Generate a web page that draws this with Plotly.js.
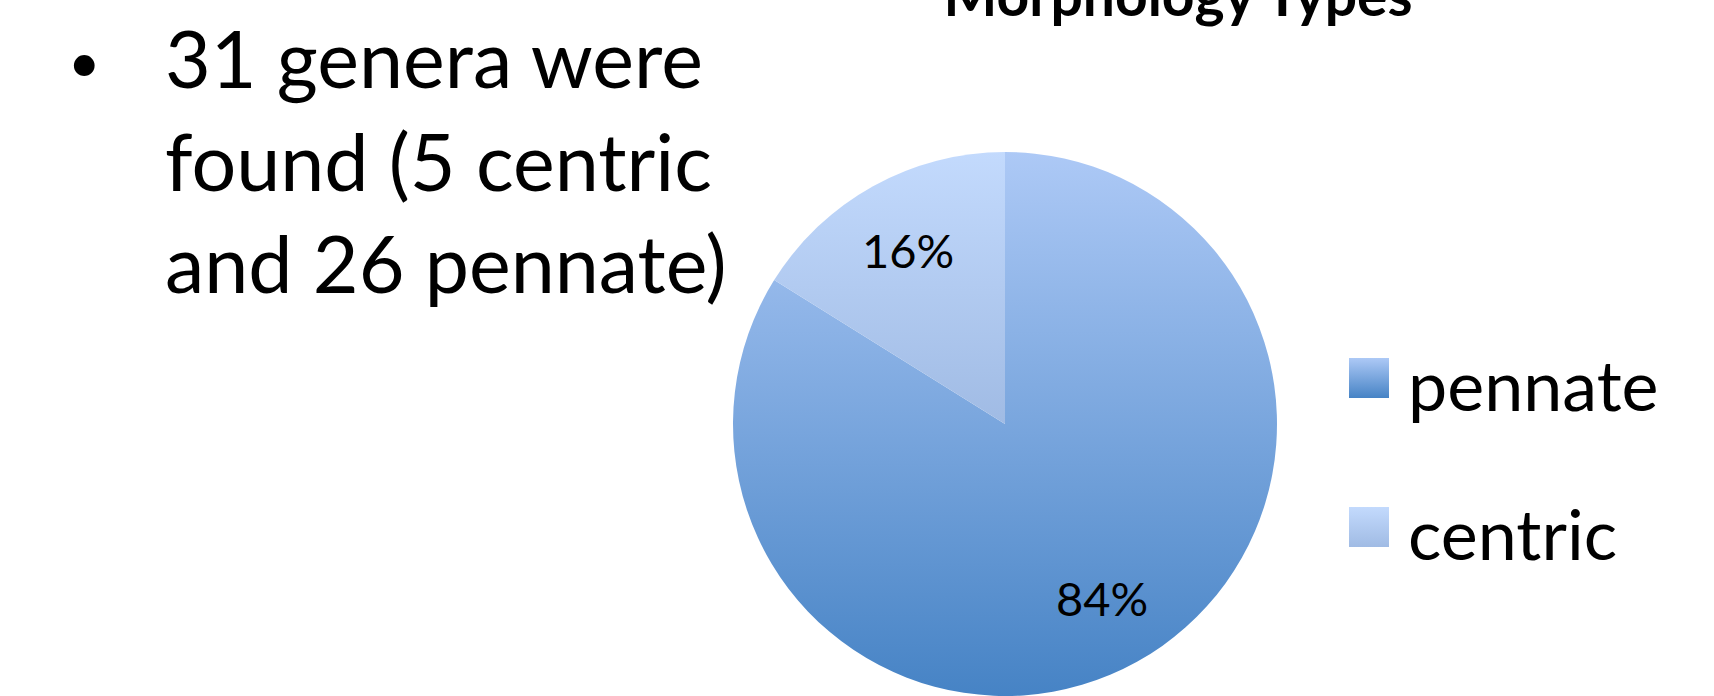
<!DOCTYPE html>
<html>
<head>
<meta charset="utf-8">
<script src="https://cdn.plot.ly/plotly-3.0.1.min.js"></script>
<style>
html,body{margin:0;padding:0;background:#fff;}
#chart{width:1714px;height:696px;}
</style>
</head>
<body>
<div id="chart"></div>
<script>
// ---- data ----
const categories = ["pennate", "centric"];
const generaCounts = [26, 5];
const sliceColors = ["#7ca6dc", "#b3cbf0"];
const gradTop = ["#adc9f6", "#c3dafd"];
const gradBottom = ["#4683c5", "#a0bbe4"];
const chartTitle = "Morphology Types";
const bulletLines = ["31 genera were", "found (5 centric", "and 26 pennate)"];

const FONT = "Lato, 'Open Sans', sans-serif";
const W = 1714, H = 696;
const pieDomain = {x: [733/W, 1277/W], y: [0, 544/H]};

const trace = {
  type: "pie",
  labels: categories,
  values: generaCounts,
  sort: false,
  direction: "clockwise",
  rotation: 0,
  marker: {colors: sliceColors, line: {width: 0}},
  textinfo: "none",
  hoverinfo: "label+percent",
  showlegend: false,
  domain: pieDomain
};

const annotations = [];
const shapes = [];

// percent labels placed from the data (mid-angle of each slice)
const total = generaCounts.reduce((a, b) => a + b, 0);
const cxPx = (pieDomain.x[0] + pieDomain.x[1]) / 2 * W;
const cyPx = (1 - (pieDomain.y[0] + pieDomain.y[1]) / 2) * H;
const rPx = Math.min((pieDomain.x[1] - pieDomain.x[0]) * W, (pieDomain.y[1] - pieDomain.y[0]) * H) / 2;
let cum = 0;
generaCounts.forEach((v, i) => {
  const theta = 2 * Math.PI * (cum + v / 2) / total;
  cum += v;
  const px = cxPx + 0.735 * rPx * Math.sin(theta);
  const py = cyPx - 0.73 * rPx * Math.cos(theta);
  annotations.push({xref: "paper", yref: "paper", x: px / W, y: 1 - py / H,
    xanchor: "center", yanchor: "middle", showarrow: false,
    text: Math.round(v / total * 100) + "%",
    font: {family: FONT, size: 47, color: "#000"}});
});

// legend built from categories
const legStartTop = 358, legStep = 149, sq = 40;
categories.forEach((c, i) => {
  const top = legStartTop + i * legStep;
  shapes.push({type: "rect", xref: "paper", yref: "paper",
    x0: 1349 / W, x1: (1349 + sq) / W,
    y0: 1 - (top + sq) / H, y1: 1 - top / H,
    fillcolor: sliceColors[i], line: {width: 0}});
  annotations.push({xref: "paper", yref: "paper", x: 1406 / W, y: 1 - (top + 26) / H,
    xanchor: "left", yanchor: "middle", showarrow: false, text: c,
    font: {family: FONT, size: 70, color: "#000"}});
});

// bullet text
annotations.push({xref: "paper", yref: "paper", x: 84 / W, y: 1 - 60 / H,
  xanchor: "center", yanchor: "middle", showarrow: false, text: "•",
  font: {family: FONT, size: 56, color: "#000"}});
annotations.push({xref: "paper", yref: "paper", x: 163 / W, y: 1 - 8 / H,
  xanchor: "left", yanchor: "top", showarrow: false, align: "left",
  text: bulletLines.join("<br>"),
  font: {family: FONT, size: 79, color: "#000"}});

const layout = {
  width: W, height: H,
  margin: {l: 0, r: 0, t: 0, b: 0},
  paper_bgcolor: "#fff",
  title: {text: "<b>" + chartTitle + "</b>", x: 1178 / W, xanchor: "center",
    xref: "paper", yref: "container", y: 1 - 16 / H, yanchor: "bottom",
    font: {family: FONT, size: 57, color: "#000"}},
  annotations: annotations,
  shapes: shapes,
  showlegend: false
};

Plotly.newPlot("chart", [trace], layout, {displayModeBar: false, staticPlot: true}).then(gd => {
  const svg = gd.querySelector("svg.main-svg");
  const NS = "http://www.w3.org/2000/svg";
  let defs = svg.querySelector("defs");
  if (!defs) { defs = document.createElementNS(NS, "defs"); svg.insertBefore(defs, svg.firstChild); }
  categories.forEach((c, i) => {
    const g = document.createElementNS(NS, "linearGradient");
    g.setAttribute("id", "grad" + i);
    g.setAttribute("x1", "0"); g.setAttribute("y1", "0");
    g.setAttribute("x2", "0"); g.setAttribute("y2", "1");
    const s1 = document.createElementNS(NS, "stop");
    s1.setAttribute("offset", "0"); s1.setAttribute("stop-color", gradTop[i]);
    const s2 = document.createElementNS(NS, "stop");
    s2.setAttribute("offset", "1"); s2.setAttribute("stop-color", gradBottom[i]);
    g.appendChild(s1); g.appendChild(s2); defs.appendChild(g);
  });
  gd.querySelectorAll(".pielayer .slice path.surface").forEach((p, i) => {
    p.style.fill = "url(#grad" + i + ")";
  });
  gd.querySelectorAll(".shapelayer path").forEach((p, i) => {
    p.style.fill = "url(#grad" + i + ")";
  });
});
</script>
</body>
</html>
